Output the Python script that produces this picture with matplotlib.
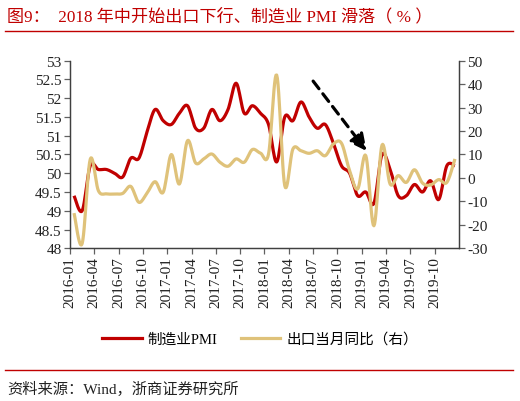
import numpy as np
import matplotlib
matplotlib.use("Agg")
import matplotlib.pyplot as plt
from matplotlib.lines import Line2D

plt.rcParams['font.family'] = ['Liberation Serif', 'Noto Sans CJK SC', 'DejaVu Sans']
plt.rcParams['axes.unicode_minus'] = False

# ---- data ----
months = [f"{y}-{m:02d}" for y in range(2016, 2020) for m in range(1, 13)]
pmi = [49.4, 49.0, 50.2, 50.1, 50.1, 50.0, 49.9, 50.4, 50.4, 51.1, 51.7, 51.4,
       51.3, 51.6, 51.8, 51.2, 51.2, 51.7, 51.4, 51.7, 52.4, 51.6, 51.8, 51.6,
       51.3, 50.3, 51.5, 51.4, 51.9, 51.5, 51.2, 51.3, 50.8, 50.2, 50.0, 49.4,
       49.5, 49.2, 50.5, 50.1, 49.4, 49.4, 49.7, 49.5, 49.8, 49.3, 50.2, 50.2]
export_yoy = [-15.0, -28.0, 8.0, -5.4, -6.8, -6.8, -6.6, -3.6, -10.4, -6.5, -1.6, -6.1,
              10.0, -2.6, 15.9, 6.4, 8.1, 10.2, 6.7, 5.0, 8.1, 6.7, 12.1, 10.6,
              10.2, 43.9, -3.3, 12.3, 11.6, 10.5, 11.6, 9.5, 14.5, 14.8, 3.1, -4.7,
              9.5, -20.4, 14.0, -2.6, 1.0, -1.9, 3.5, -2.2, -3.0, -0.7, -1.9, 8.1]
tick_idx = list(range(0, 48, 3))
tick_labels = [months[i] for i in tick_idx]

RED = '#C00000'
GOLD = '#DFC27A'


def smooth(x, y, n=12):
    x = np.asarray(x, float)
    y = np.asarray(y, float)
    px = np.concatenate([[x[0]], x, [x[-1]]])
    py = np.concatenate([[y[0]], y, [y[-1]]])
    xs, ys = [], []
    t = np.linspace(0, 1, n, endpoint=False)
    for i in range(1, len(px) - 2):
        for arr, out in ((px, xs), (py, ys)):
            p0, p1, p2, p3 = arr[i - 1], arr[i], arr[i + 1], arr[i + 2]
            out.extend(0.5 * ((2 * p1) + (-p0 + p2) * t +
                              (2 * p0 - 5 * p1 + 4 * p2 - p3) * t ** 2 +
                              (-p0 + 3 * p1 - 3 * p2 + p3) * t ** 3))
    xs.append(x[-1]); ys.append(y[-1])
    return np.array(xs), np.array(ys)


fig = plt.figure(figsize=(5.2, 4.02), dpi=100)
ax = fig.add_axes([0.1346, 0.3799, 0.7481, 0.4666])
ax2 = ax.twinx()

xpos = np.arange(len(months)) + 0.5
sx, sy = smooth(xpos, pmi)
ax.plot(sx, sy, color=RED, lw=2.3, solid_capstyle='butt')
sx2, sy2 = smooth(xpos, export_yoy)
ax2.plot(sx2, sy2, color=GOLD, lw=2.3, solid_capstyle='butt')

ax.set_xlim(0, 48)
ax.set_ylim(48, 53)
ax.set_yticks(np.arange(48, 53.01, 0.5))
ax.set_yticklabels([f"{v:g}" for v in np.arange(48, 53.01, 0.5)])
ax2.set_ylim(-30, 50)
ax2.set_yticks(np.arange(-30, 51, 10))
ax2.set_yticklabels([f"{v:d}" for v in range(-30, 51, 10)])

ax.set_xticks(tick_idx)
ax.set_xticklabels(tick_labels, rotation=90)

for a in (ax, ax2):
    a.spines['top'].set_visible(False)
    for s in ('left', 'right', 'bottom'):
        a.spines[s].set_color('#404040')
        a.spines[s].set_linewidth(0.9)
    a.tick_params(axis='both', direction='out', length=4, width=0.9,
                  color='#606060', labelsize=11, pad=2, labelcolor='#222222')

# arrow
ax2.annotate('', xy=(36.6, 11.5), xytext=(30.0, 41.3),
             arrowprops=dict(arrowstyle='-|>,head_length=1.0,head_width=0.5',
                             linestyle=(0, (3, 2)), lw=2.3, color='black',
                             shrinkA=0, shrinkB=0))

# legend
handles = [Line2D([], [], color=RED, lw=2.3), Line2D([], [], color=GOLD, lw=2.3)]
fig.legend(handles, ['制造业PMI', '出口当月同比（右）'], loc='center',
           bbox_to_anchor=(0.5, 1 - 340 / 402), ncol=2, frameon=False,
           fontsize=10.5, handlelength=2.7, handletextpad=0.4, columnspacing=1.6)

# title and source
fig.text(7 / 520, 1 - 17 / 402, '图9：  2018 年中开始出口下行、制造业 PMI 滑落（ % ）',
         color=RED, fontsize=12.3, va='center', ha='left')
fig.add_artist(Line2D([5 / 520, 513 / 520], [1 - 32 / 402] * 2, color=RED, lw=1))
fig.add_artist(Line2D([5 / 520, 513 / 520], [1 - 371 / 402] * 2, color=RED, lw=1))
fig.text(7 / 520, 1 - 389 / 402, '资料来源：Wind，浙商证券研究所',
         color='#222222', fontsize=11, va='center', ha='left')

fig.savefig('out.png', dpi=100)
